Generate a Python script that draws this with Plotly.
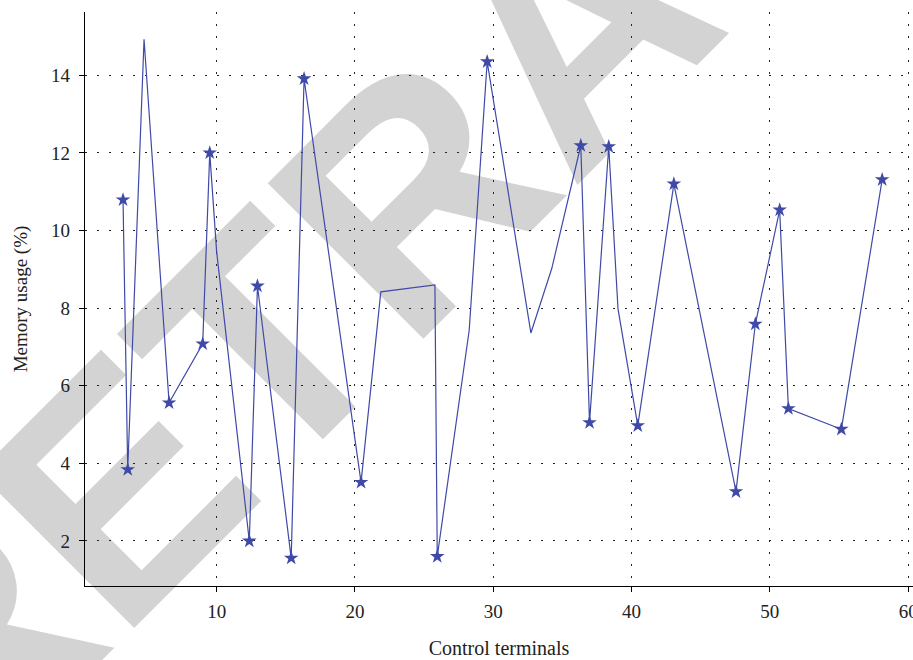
import plotly.graph_objects as go

# Data
terminals = [3.23, 3.57, 4.75, 6.56, 8.99, 9.50, 10.0, 12.36, 12.95, 15.39, 16.32,
             20.44, 21.87, 25.78, 25.95, 28.26, 29.56, 32.72, 34.23, 36.33, 36.96,
             38.35, 39.02, 40.45, 43.06, 47.55, 48.95, 50.71, 51.34, 55.17, 58.12]
memory = [10.79, 3.84, 14.93, 5.56, 7.08, 12.0, 9.45, 2.0, 8.57, 1.56, 13.91,
          3.51, 8.42, 8.60, 1.60, 7.43, 14.35, 7.36, 9.02, 12.19, 5.05,
          12.16, 7.98, 4.97, 11.20, 3.27, 7.59, 10.53, 5.41, 4.88, 11.31]
marked = [1, 1, 0, 1, 1, 1, 0, 1, 1, 1, 1,
          1, 0, 0, 1, 0, 1, 0, 0, 1, 1,
          1, 0, 1, 1, 1, 1, 1, 1, 1, 1]
x_ticks = [10, 20, 30, 40, 50, 60]
y_ticks = [2, 4, 6, 8, 10, 12, 14]

LINE = "#3f4aa8"
SERIF = "Liberation Serif"

star_x = [x for x, m in zip(terminals, marked) if m]
star_y = [y for y, m in zip(memory, marked) if m]

fig = go.Figure()
fig.add_trace(go.Scatter(x=terminals, y=memory, mode="lines",
                         line=dict(color=LINE, width=1.2), showlegend=False,
                         hoverinfo="skip"))
fig.add_trace(go.Scatter(x=star_x, y=star_y, mode="markers",
                         marker=dict(symbol="star", size=11, color=LINE,
                                     line=dict(width=0)),
                         showlegend=False))

# Watermark, drawn beneath the grid and the data
fig.add_shape(type="rect", xref="paper", yref="paper",
              x0=0.556, x1=0.576, y0=0.995, y1=1.015,
              line=dict(width=0), fillcolor="rgba(0,0,0,0)", layer="below",
              label=dict(text="RETRACTED", textangle=-45,
                         textposition="middle center",
                         font=dict(size=320, color="#d3d3d3",
                                   family="Liberation Sans", weight="bold")))

axis_common = dict(
    showline=True, linecolor="black", linewidth=1.3,
    ticks="outside", ticklen=5, tickcolor="black", tickwidth=1.2,
    showgrid=True, gridcolor="#222", gridwidth=1.2, griddash="1.5px,10.5px",
    zeroline=False, mirror=False, automargin=False,
    tickfont=dict(family=SERIF, size=19, color="#222"),
    ticklabeloverflow="allow",
)

fig.update_xaxes(range=[0.48, 60.35], tickvals=x_ticks, ticklabelstandoff=3,
                 title=dict(text="Control terminals",
                            font=dict(family=SERIF, size=20, color="#222"),
                            standoff=20),
                 **axis_common)
fig.update_yaxes(range=[0.84, 15.63], tickvals=y_ticks, ticklabelstandoff=5,
                 title=dict(text="Memory usage (%)",
                            font=dict(family=SERIF, size=19, color="#222"),
                            standoff=18),
                 **axis_common)

fig.update_layout(
    width=913, height=660,
    margin=dict(l=85, r=0, t=12, b=74),
    paper_bgcolor="white", plot_bgcolor="rgba(0,0,0,0)",
    font=dict(family=SERIF),
)

fig.write_html("out.html",
               config={"displayModeBar": False},
               post_script="document.body.style.margin='0';"
                           "document.body.style.overflow='hidden';")
